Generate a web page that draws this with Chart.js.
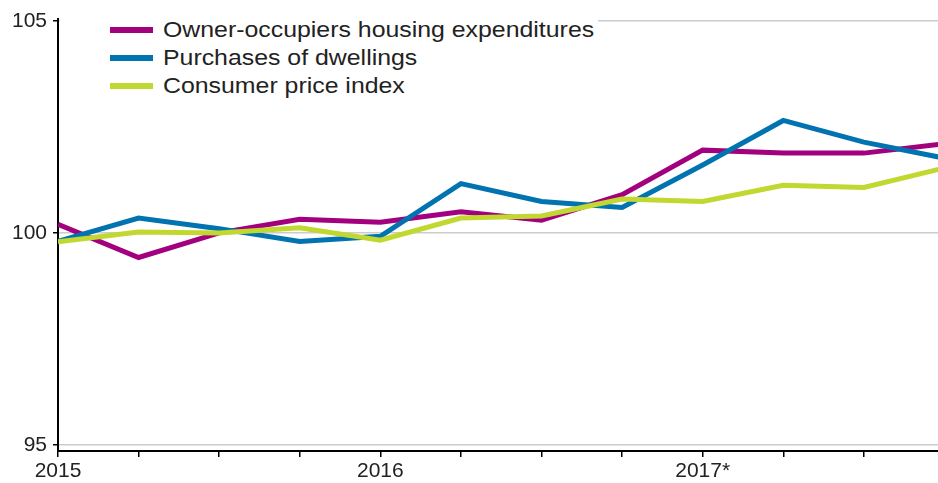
<!DOCTYPE html>
<html lang="en">
<head>
<meta charset="UTF-8">
<title>Owner-occupiers housing expenditures, purchases of dwellings and CPI</title>
<script src="https://cdn.jsdelivr.net/npm/chart.js"></script>
<style>
  html, body { margin: 0; padding: 0; background: #fff; }
  #wrap { position: relative; width: 938px; height: 483px; }
  #legend {
    position: absolute; left: 60px; top: 16px; width: 538px; height: 86px;
    background: #fff; font-family: "Liberation Sans", Arial, sans-serif;
    font-size: 22px; color: #222;
  }
  .row { display: flex; align-items: center; height: 28px; }
  .swatch { width: 43px; height: 6px; margin-left: 50px; margin-right: 10px; }
  .row span { display: inline-block; transform: scaleX(1.13); transform-origin: left center; white-space: nowrap; }
</style>
</head>
<body>
<div id="wrap">
  <canvas id="chart" width="938" height="483"></canvas>
  <div id="legend"></div>
</div>
<script>
// quarterly index values, 2015Q1 .. 2017Q4
const quarters = ['2015Q1','2015Q2','2015Q3','2015Q4','2016Q1','2016Q2','2016Q3','2016Q4','2017Q1','2017Q2','2017Q3','2017Q4'];
const ownerOccupiers = [100.2, 99.42, 100.0, 100.32, 100.25, 100.5, 100.3, 100.9, 101.95, 101.88, 101.88, 102.1];
const purchases = [99.8, 100.35, 100.1, 99.8, 99.92, 101.16, 100.74, 100.6, 101.6, 102.65, 102.14, 101.76];
const cpi = [99.79, 100.02, 100.0, 100.12, 99.83, 100.35, 100.4, 100.8, 100.74, 101.12, 101.07, 101.53];
const yearLabels = { 0: '2015', 4: '2016', 8: '2017*' };
const yTicks = [95, 100, 105];

const series = [
  { label: 'Owner-occupiers housing expenditures', values: ownerOccupiers, color: '#a2007e', order: 3 },
  { label: 'Purchases of dwellings', values: purchases, color: '#0073b0', order: 2 },
  { label: 'Consumer price index', values: cpi, color: '#c0d82f', order: 1 }
];

// html legend
const legend = document.getElementById('legend');
series.forEach(s => {
  const row = document.createElement('div');
  row.className = 'row';
  row.innerHTML = '<div class="swatch" style="background:' + s.color + '"></div><span>' + s.label + '</span>';
  legend.appendChild(row);
});

const tickFont = { family: '"Liberation Sans", Arial, sans-serif', size: 21 };

new Chart(document.getElementById('chart'), {
  type: 'line',
  data: {
    datasets: series.map(s => ({
      label: s.label,
      data: s.values.map((v, i) => ({ x: i, y: v })),
      borderColor: s.color,
      backgroundColor: s.color,
      borderWidth: 5,
      pointRadius: 0,
      tension: 0,
      fill: false,
      order: s.order,
      clip: { left: 0, right: 0, top: 5, bottom: 5 }
    }))
  },
  options: {
    responsive: false,
    animation: false,
    devicePixelRatio: 1,
    layout: { padding: { top: 15, left: 0, right: 0, bottom: 0 } },
    plugins: { legend: { display: false }, tooltip: { enabled: false } },
    scales: {
      x: {
        type: 'linear',
        min: 0,
        max: 10.92,
        afterBuildTicks: scale => { scale.ticks = quarters.slice(0, 11).map((q, i) => ({ value: i })); },
        afterFit: scale => { scale.height = 32; },
        ticks: {
          autoSkip: false, maxRotation: 0, padding: 2, color: '#222', font: tickFont,
          callback: v => yearLabels[v] || ''
        },
        grid: { drawOnChartArea: false, drawTicks: true, tickLength: 6, color: '#000', lineWidth: 1.5 },
        border: { color: '#000', width: 2 }
      },
      y: {
        min: 94.86,
        max: 105.05,
        afterBuildTicks: scale => { scale.ticks = yTicks.map(v => ({ value: v })); },
        afterFit: scale => { scale.width = 58; },
        ticks: { padding: 6, color: '#222', font: tickFont },
        grid: { color: '#cccccc', lineWidth: 1.5, tickColor: '#000', tickLength: 5 },
        border: { color: '#000', width: 2 }
      }
    }
  }
});
</script>
</body>
</html>
